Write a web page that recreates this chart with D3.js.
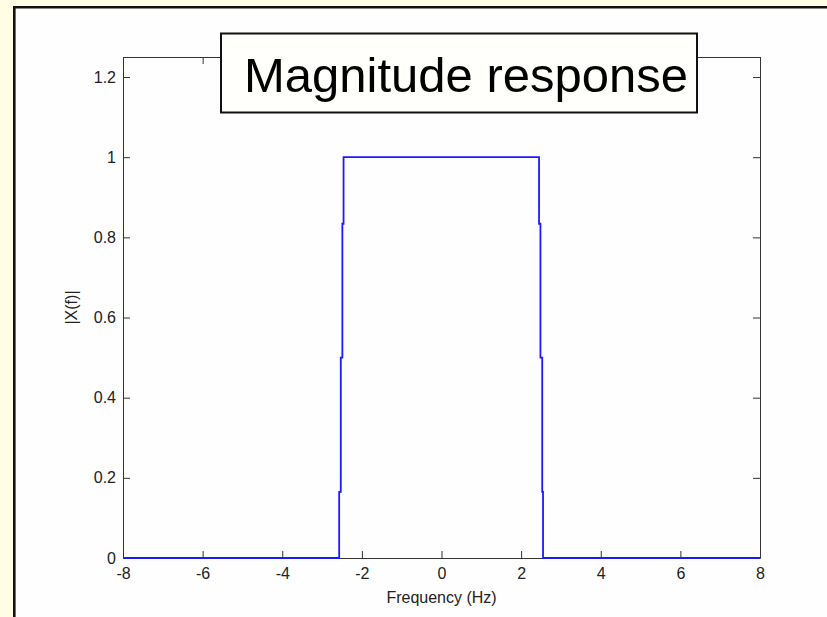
<!DOCTYPE html>
<html>
<head>
<meta charset="utf-8">
<script src="https://cdn.jsdelivr.net/npm/d3@7"></script>
<style>
  html, body { margin: 0; padding: 0; background: #fffee5; overflow: hidden; }
  svg { display: block; }
</style>
</head>
<body>
<svg id="chart" width="827" height="617"></svg>
<script>
// Rectangular pulse spectrum: frequency breakpoints and magnitudes (stairs)
const frequency = [-8, -2.57, -2.53, -2.49, -2.46, 2.45, 2.485, 2.53, 2.55, 8];
const magnitude = [0, 0.165, 0.5, 0.834, 1, 0.834, 0.5, 0.165, 0, 0];

const xTicks = [-8, -6, -4, -2, 0, 2, 4, 6, 8];
const xTickLabels = ["-8", "-6", "-4", "-2", "0", "2", "4", "6", "8"];
const yTicks = [0, 0.2, 0.4, 0.6, 0.8, 1, 1.2];
const yTickLabels = ["0", "0.2", "0.4", "0.6", "0.8", "1", "1.2"];

const titleText = "Magnitude response";
const xLabel = "Frequency (Hz)";
const yLabel = "|X(f)|";

const svg = d3.select("#chart");
const W = 827, H = 617;

// White panel, framed on its left and top edges
svg.append("rect")
  .attr("x", 14).attr("y", 7)
  .attr("width", W - 14).attr("height", H - 7)
  .attr("fill", "#fefefe");
svg.append("path")
  .attr("d", `M14.3,${H} L14.3,7.3 L${W},7.3`)
  .attr("fill", "none")
  .attr("stroke", "#111").attr("stroke-width", 2.6);

const x = d3.scaleLinear().domain([-8, 8]).range([123, 760]);
const y = d3.scaleLinear().domain([0, 1.25]).range([558, 57]);

const font = "'Liberation Sans', Arial, sans-serif";
const axisColor = "#333";
const tickLen = 7;
const labelSize = 16;

function styleAxis(g) {
  g.selectAll("path.domain").attr("stroke", axisColor).attr("stroke-width", 1);
  g.selectAll(".tick line").attr("stroke", axisColor).attr("stroke-width", 1);
  g.selectAll(".tick text").attr("fill", "#222")
    .attr("font-family", font).attr("font-size", labelSize);
}

const data = frequency.map((f, i) => ({ f, m: magnitude[i] }));

// Trace
const line = d3.line()
  .x(d => x(d.f))
  .y(d => y(d.m))
  .curve(d3.curveStepAfter);

// Axes (box style with inward ticks)
svg.append("g")
  .attr("transform", `translate(0,${y(0)})`)
  .call(d3.axisBottom(x).tickValues(xTicks)
    .tickFormat((d, i) => xTickLabels[i])
    .tickSizeInner(-tickLen).tickSizeOuter(0).tickPadding(10))
  .call(styleAxis);

svg.append("g")
  .attr("transform", `translate(0,${y(1.25)})`)
  .call(d3.axisTop(x).tickValues(xTicks).tickFormat("")
    .tickSizeInner(-tickLen).tickSizeOuter(0))
  .call(styleAxis);

svg.append("g")
  .attr("transform", `translate(${x(-8)},0)`)
  .call(d3.axisLeft(y).tickValues(yTicks)
    .tickFormat((d, i) => yTickLabels[i])
    .tickSizeInner(-tickLen).tickSizeOuter(0).tickPadding(7))
  .call(styleAxis);

svg.append("g")
  .attr("transform", `translate(${x(8)},0)`)
  .call(d3.axisRight(y).tickValues(yTicks).tickFormat("")
    .tickSizeInner(-tickLen).tickSizeOuter(0))
  .call(styleAxis);

svg.append("path")
  .datum(data)
  .attr("d", line)
  .attr("fill", "none")
  .attr("stroke", "#1a1aff")
  .attr("stroke-width", 1.8);

// Axis labels
svg.append("text")
  .attr("x", (x(-8) + x(8)) / 2).attr("y", 603)
  .attr("text-anchor", "middle")
  .attr("font-family", font).attr("font-size", labelSize).attr("fill", "#222")
  .text(xLabel);

svg.append("text")
  .attr("transform", `translate(77,${(y(0) + y(1.25)) / 2}) rotate(-90)`)
  .attr("text-anchor", "middle")
  .attr("font-family", font).attr("font-size", labelSize).attr("fill", "#222")
  .text(yLabel);

// Title box
svg.append("rect")
  .attr("x", 221).attr("y", 33.5)
  .attr("width", 476).attr("height", 79)
  .attr("fill", "#fffffb")
  .attr("stroke", "#111").attr("stroke-width", 2);

svg.append("text")
  .attr("x", 244).attr("y", 91.5)
  .attr("font-family", font).attr("font-size", 49).attr("fill", "#000")
  .text(titleText);
</script>
</body>
</html>
